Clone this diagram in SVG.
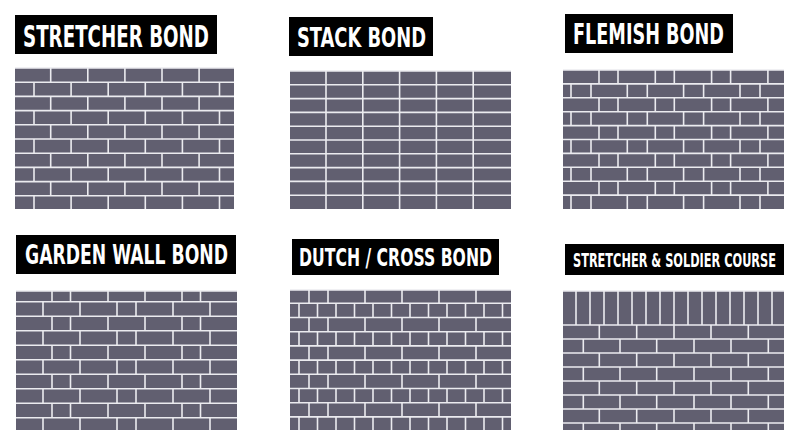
<svg xmlns="http://www.w3.org/2000/svg" width="800" height="445" viewBox="0 0 800 445">
<style>
.bg{fill:#ffffff}
.wall{fill:#615f70}
.m{stroke:#ebebef;stroke-width:1.6;fill:none}
.lb{fill:#000000}
.lt{fill:#ffffff;font-family:"DejaVu Sans Condensed","DejaVu Sans",sans-serif;font-weight:bold}
</style>
<rect class="bg" x="0" y="0" width="800" height="445"/>

<g id="stretcher-bond">
<rect class="lb" x="15" y="15" width="202" height="39"/>
<text class="lt" x="23" y="46.5" font-size="31" textLength="186" lengthAdjust="spacingAndGlyphs">STRETCHER BOND</text>
<rect class="wall" x="15" y="68" width="219" height="141"/>
<path class="m" d="M15 68H234M15 82.2H234M15 96.4H234M15 110.6H234M15 124.8H234M15 139H234M15 153.2H234M15 167.4H234M15 181.6H234M15 195.8H234"/>
<path class="m" stroke-dasharray="14.2 14.2" d="M50.7 68V209M87.8 68V209M124.9 68V209M162 68V209M199.1 68V209M34 82.2V209M71.1 82.2V209M108.2 82.2V209M145.3 82.2V209M182.4 82.2V209M219.5 82.2V209"/>
</g>

<g id="stack-bond">
<rect class="lb" x="289" y="17" width="144" height="39"/>
<text class="lt" x="297" y="47" font-size="27" textLength="129" lengthAdjust="spacingAndGlyphs">STACK BOND</text>
<rect class="wall" x="290" y="71" width="221" height="138"/>
<path class="m" d="M290 71H511M290 84.8H511M290 98.6H511M290 112.4H511M290 126.2H511M290 140H511M290 153.8H511M290 167.6H511M290 181.4H511M290 195.2H511"/>
<path class="m" d="M326 71V209M362.8 71V209M399.6 71V209M436.4 71V209M473.2 71V209"/>
</g>

<g id="flemish-bond">
<rect class="lb" x="565" y="14" width="168" height="39"/>
<text class="lt" x="573" y="44" font-size="28" textLength="151" lengthAdjust="spacingAndGlyphs">FLEMISH BOND</text>
<rect class="wall" x="563" y="70" width="221" height="139"/>
<path class="m" d="M563 70H784M563 83.9H784M563 97.8H784M563 111.7H784M563 125.6H784M563 139.5H784M563 153.4H784M563 167.3H784M563 181.2H784M563 195.1H784"/>
<path class="m" stroke-dasharray="13.9 13.9" d="M599 70V209M618 70V209M655.3 70V209M674.3 70V209M711.6 70V209M730.6 70V209M767.9 70V209M571 83.9V209M591 83.9V209M627.3 83.9V209M647.3 83.9V209M683.6 83.9V209M703.6 83.9V209M740 83.9V209M760 83.9V209"/>
</g>

<g id="garden-wall-bond">
<rect class="lb" x="16" y="235" width="220" height="39"/>
<text class="lt" x="25" y="264" font-size="27" textLength="203" lengthAdjust="spacingAndGlyphs">GARDEN WALL BOND</text>
<rect class="wall" x="16" y="291" width="221" height="139"/>
<path class="m" d="M16 291H237M16 301.7H237M16 316.2H237M16 330.7H237M16 345.2H237M16 359.7H237M16 374.2H237M16 388.7H237M16 403.2H237M16 417.7H237"/>
<path class="m" stroke-dasharray="14.5 14.5" stroke-dashoffset="3.8" d="M52 291V430M70.5 291V430M108 291V430M145 291V430M182 291V430M200.5 291V430"/>
<path class="m" stroke-dasharray="14.5 14.5" d="M43 301.7V430M80 301.7V430M117 301.7V430M136 301.7V430M173 301.7V430M210 301.7V430"/>
</g>

<g id="dutch-cross-bond">
<rect class="lb" x="292" y="239" width="207" height="36"/>
<text class="lt" x="299" y="266" font-size="24" textLength="193" lengthAdjust="spacingAndGlyphs">DUTCH / CROSS BOND</text>
<rect class="wall" x="290" y="290" width="221" height="140"/>
<path class="m" d="M290 290H511M290 303.3H511M290 317.5H511M290 331.7H511M290 345.9H511M290 360.1H511M290 374.3H511M290 388.5H511M290 402.7H511M290 416.9H511"/>
<path class="m" stroke-dasharray="14.2 14.2" stroke-dashoffset="0.9" d="M309 290V430M328 290V430M365 290V430M402 290V430M439 290V430M476 290V430"/>
<path class="m" stroke-dasharray="14.2 14.2" d="M299 303.3V430M317.5 303.3V430M336 303.3V430M354.5 303.3V430M373 303.3V430M391.5 303.3V430M410 303.3V430M428.5 303.3V430M447 303.3V430M465.5 303.3V430M484 303.3V430M502.5 303.3V430"/>
</g>

<g id="stretcher-soldier-course">
<rect class="lb" x="565" y="244" width="219" height="31"/>
<text class="lt" x="573" y="267" font-size="19" textLength="203" lengthAdjust="spacingAndGlyphs">STRETCHER &amp; SOLDIER COURSE</text>
<rect class="wall" x="563" y="291" width="221" height="139"/>
<path class="m" d="M563 291H784M563 325H784M563 339H784M563 353H784M563 367H784M563 381H784M563 395H784M563 409H784M563 423H784"/>
<path class="m" d="M576 291V325M590 291V325M604 291V325M618 291V325M632 291V325M646 291V325M660 291V325M674 291V325M688 291V325M702 291V325M716 291V325M730 291V325M744 291V325M758 291V325M772 291V325"/>
<path class="m" stroke-dasharray="14 14" d="M599.3 325V430M636.7 325V430M674 325V430M711 325V430M748.3 325V430M583.3 339V430M620 339V430M656.7 339V430M694 339V430M731 339V430M768.3 339V430"/>
</g>
</svg>
